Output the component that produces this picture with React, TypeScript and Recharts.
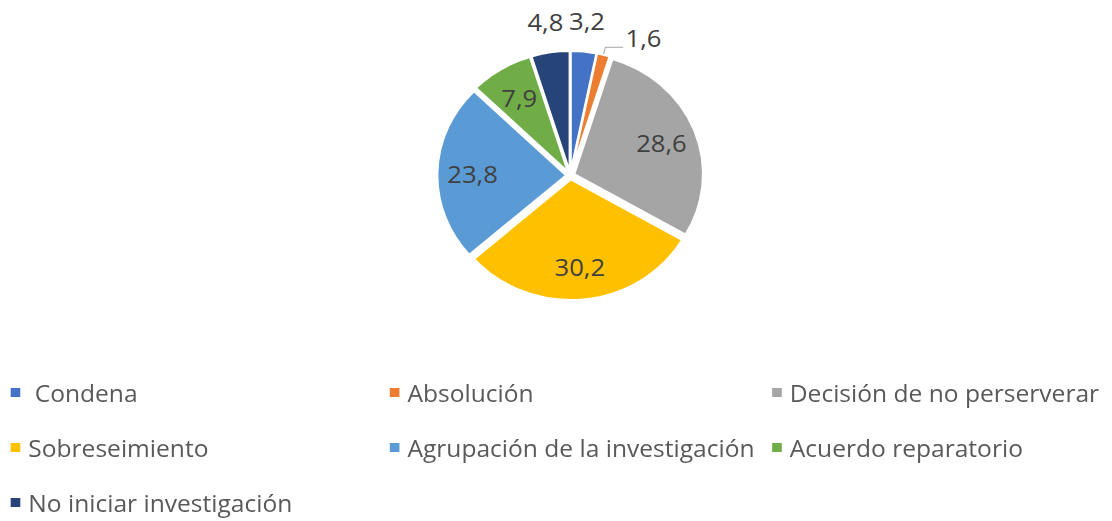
import React from "react";
import { PieChart, Pie, Cell, Sector, Legend } from "recharts";

// the source picture is stretched sideways, so the whole chart is drawn narrower and scaled back out
const SX = 1.068;
const W = 1041;
const H = 521;
const RAD = Math.PI / 180;

const categories = [
  " Condena",
  "Absolución",
  "Decisión de no perserverar",
  "Sobreseimiento",
  "Agrupación de la investigación",
  "Acuerdo reparatorio",
  "No iniciar investigación",
];
const values = [3.2, 1.6, 28.6, 30.2, 23.8, 7.9, 4.8];
const colors = ["#4472C4", "#ED7D31", "#A5A5A5", "#FFC000", "#5B9BD5", "#70AD47", "#264478"];

const data = categories.map((name, i) => ({ name, value: values[i] }));

const EXPLODE = 4;
const FONT = "'Open Sans', sans-serif";

function fmt(v: number): string {
  return v.toFixed(1).replace(".", ",");
}

function ExplodedSector(props: any) {
  const { cx, cy, midAngle, innerRadius, outerRadius, startAngle, endAngle, fill } = props;
  const dx = EXPLODE * Math.cos(-midAngle * RAD);
  const dy = EXPLODE * Math.sin(-midAngle * RAD);
  return (
    <Sector
      cx={cx + dx}
      cy={cy + dy}
      innerRadius={innerRadius}
      outerRadius={outerRadius}
      startAngle={startAngle}
      endAngle={endAngle}
      fill={fill}
      stroke="#fff"
      strokeWidth={2}
    />
  );
}

function renderLabel(props: any) {
  const { cx, cy, midAngle, outerRadius, index } = props;
  const v = values[index];
  const text = fmt(v);
  const style = { fontSize: 24, fontFamily: FONT, fill: "#404040" };

  if (v >= 7) {
    // big slices: label inside
    const rr = outerRadius * 0.76;
    const x = cx + rr * Math.cos(-midAngle * RAD);
    const y = cy + rr * Math.sin(-midAngle * RAD);
    return (
      <text x={x} y={y} textAnchor="middle" dominantBaseline="central" style={style}>
        {text}
      </text>
    );
  }
  if (v >= 2) {
    const rr = outerRadius * 1.29;
    const x = cx + rr * Math.cos(-midAngle * RAD);
    const y = cy + rr * Math.sin(-midAngle * RAD);
    return (
      <text x={x} y={y} textAnchor="middle" dominantBaseline="central" style={style}>
        {text}
      </text>
    );
  }
  // tiny slice: pushed aside with a leader line
  const ang = midAngle - 12;
  const rr = outerRadius * 1.28;
  const x = cx + rr * Math.cos(-ang * RAD);
  const y = cy + rr * Math.sin(-ang * RAD);
  const r0 = outerRadius + EXPLODE + 1;
  const x0 = cx + r0 * Math.cos(-midAngle * RAD);
  const y0 = cy + r0 * Math.sin(-midAngle * RAD);
  const x1 = cx + (r0 + 7) * Math.cos(-midAngle * RAD);
  const y1 = cy + (r0 + 7) * Math.sin(-midAngle * RAD);
  const x2 = x - 19;
  return (
    <g>
      <polyline
        points={`${x0},${y0} ${x1},${y1} ${x2},${y1}`}
        fill="none"
        stroke="#A6A6A6"
        strokeWidth={1}
      />
      <text x={x} y={y} textAnchor="middle" dominantBaseline="central" style={style}>
        {text}
      </text>
    </g>
  );
}

// legend rows as Excel laid them out: 3 columns, wrapping
function LegendGrid() {
  return (
    <div
      style={{
        display: "grid",
        gridTemplateColumns: "355px 358px auto",
        gridAutoRows: "55px",
        paddingLeft: 10,
        fontFamily: FONT,
        fontSize: 23,
        color: "#595959",
      }}
    >
      {categories.map((c, i) => (
        <div key={c} style={{ display: "flex", alignItems: "center", whiteSpace: "pre" }}>
          <span
            style={{ width: 9, height: 9, background: colors[i], marginRight: 7.5, flex: "none" }}
          />
          <span>{c}</span>
        </div>
      ))}
    </div>
  );
}

export default function App() {
  return (
    <div
      style={{
        position: "absolute",
        left: 0,
        top: 0,
        width: W,
        height: H,
        background: "#fff",
        transform: `scaleX(${SX})`,
        transformOrigin: "0 0",
        fontFamily: FONT,
      }}
    >
      <PieChart width={W} height={H} margin={{ top: 0, right: 0, bottom: 0, left: 0 }}>
        <Pie
          data={data}
          dataKey="value"
          nameKey="name"
          cx={534}
          cy={175.5}
          outerRadius={120.5}
          startAngle={90}
          endAngle={-270}
          stroke="none"
          shape={ExplodedSector}
          activeShape={ExplodedSector}
          inactiveShape={ExplodedSector}
          label={renderLabel}
          labelLine={false}
          isAnimationActive={false}
        >
          {data.map((d, i) => (
            <Cell key={d.name} fill={colors[i]} />
          ))}
        </Pie>
        <Legend
          content={() => <LegendGrid />}
          wrapperStyle={{ left: 0, top: 365, width: W, height: 165 }}
        />
      </PieChart>
    </div>
  );
}
